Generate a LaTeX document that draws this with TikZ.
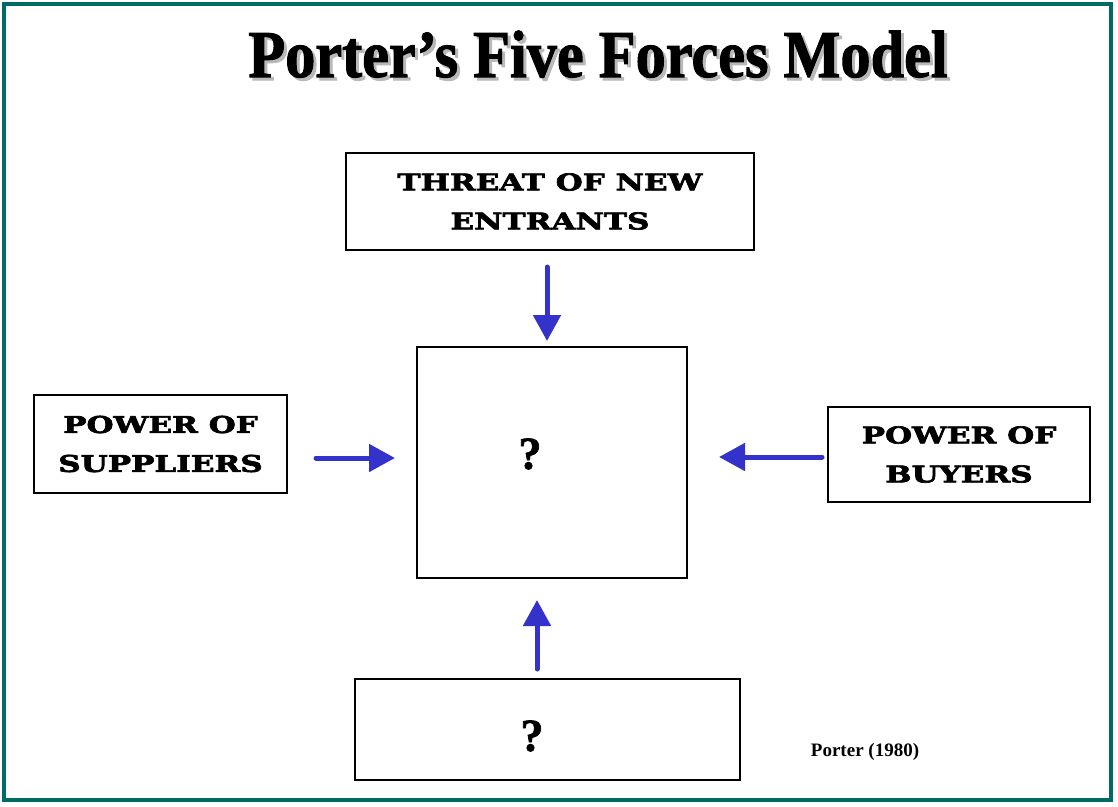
\documentclass[tikz,border=0pt]{standalone}
\usepackage{fontspec}
\setmainfont{Liberation Serif}
\newfontfamily\boxfont{DejaVu Serif Bold}[FakeStretch=1.35,FakeBold=3]
\newfontfamily\titlefont{Liberation Serif Bold}[FakeStretch=0.9,FakeBold=1.5]
\newfontfamily\qfont{Liberation Serif Bold}[FakeBold=1.5]
\usetikzlibrary{arrows.meta}
\definecolor{framecol}{HTML}{006B66}
\definecolor{forcecol}{HTML}{3333CC}
\begin{document}
\begin{tikzpicture}[x=1pt,y=-1pt,
  box/.style={draw,line width=2pt,inner sep=0pt,align=center,
    font=\boxfont\fontsize{23}{39}\selectfont},
  qmark/.style={font=\qfont\fontsize{46}{46}\selectfont,inner sep=0pt},
  forcearrow/.style={draw=forcecol,line width=5pt,line cap=round,
    -{Triangle[width=27pt,length=26pt]}},
  titletext/.style={font=\titlefont\fontsize{67}{67}\selectfont,anchor=base,inner sep=0pt}]
\useasboundingbox (0,0) rectangle (1118,806);
\fill[white] (0,0) rectangle (1118,806);
\draw[framecol,line width=4pt] (4,4) rectangle (1111,800);
% title with shadow
\node[titletext,text=gray!55] (titleshadow) at (601,80) {Porter’s Five Forces Model};
\node[titletext] (title) at (598,77) {Porter’s Five Forces Model};
% boxes
\node[box,minimum width=408pt,minimum height=97pt] (entr) at (550,201.5) {THREAT OF NEW\\ENTRANTS};
\node[box,minimum width=270pt,minimum height=231pt] (core) at (552,462.5) {};
\node[box,minimum width=253pt,minimum height=98pt] (supp) at (160.5,444) {POWER OF\\SUPPLIERS};
\node[box,minimum width=262pt,minimum height=95pt] (buy) at (959,454.5) {POWER OF\\BUYERS};
\node[box,minimum width=385pt,minimum height=101pt] (subst) at (547.5,729.5) {};
\node[qmark] (q1) at (530,454) {?};
\node[qmark] (q2) at (532,736) {?};
\node[font=\bfseries\fontsize{19}{19}\selectfont,anchor=base,inner sep=0pt] (src) at (865,756) {Porter (1980)};
% arrows
\draw[forcearrow,shorten <=16pt,shorten >=5pt] ([xshift=-3pt]entr.south) -- ([xshift=-5pt]core.north);
\draw[forcearrow,shorten <=28pt,shorten >=21pt] ([yshift=-14pt]supp.east) -- ([yshift=4.5pt]core.west);
\draw[forcearrow,shorten <=5pt,shorten >=31pt] ([yshift=-2.5pt]buy.west) -- ([yshift=5.5pt]core.east);
\draw[forcearrow,shorten <=9pt,shorten >=21pt] ([xshift=-10.5pt]subst.north) -- ([xshift=-15pt]core.south);
\end{tikzpicture}
\end{document}
